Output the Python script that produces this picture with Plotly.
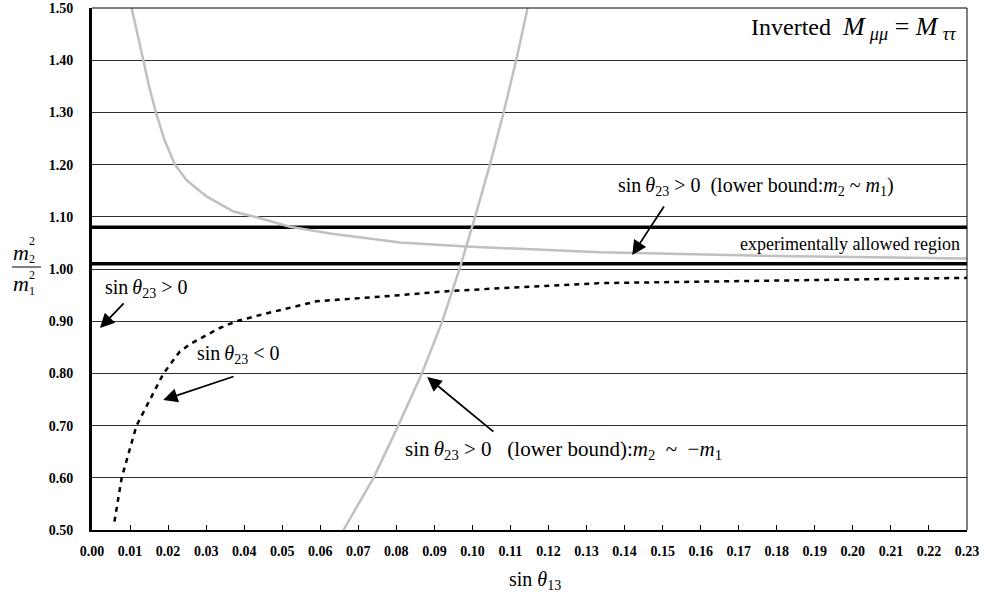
import plotly.graph_objects as go

# ---- data ----
upper_x = [0.0104, 0.0120, 0.0135, 0.0150, 0.0168, 0.0190, 0.0218, 0.0249, 0.0301,
           0.0372, 0.0433, 0.0520, 0.0626, 0.0810, 0.0983, 0.1335, 0.1800, 0.2300]
upper_y = [1.500, 1.445, 1.400, 1.350, 1.300, 1.248, 1.200, 1.170, 1.139,
           1.110, 1.099, 1.081, 1.068, 1.051, 1.043, 1.032, 1.025, 1.020]

steep_x = [0.0661, 0.0740, 0.0805, 0.0867, 0.0921, 0.0966, 0.1007, 0.1046, 0.1082, 0.1115, 0.1145]
steep_y = [0.50, 0.60, 0.70, 0.80, 0.90, 1.00, 1.10, 1.20, 1.30, 1.40, 1.50]

neg_x = [0.0059, 0.0078, 0.0117, 0.0188, 0.0231, 0.0262, 0.0336, 0.0380, 0.0442,
         0.0590, 0.0810, 0.0941, 0.1335, 0.1800, 0.2300]
neg_y = [0.516, 0.600, 0.700, 0.800, 0.842, 0.858, 0.887, 0.900, 0.912,
         0.938, 0.950, 0.958, 0.973, 0.978, 0.983]

bounds = [1.01, 1.08]
x_range = [0.0, 0.23]
y_range = [0.5, 1.5]

FONT = "Times New Roman, Liberation Serif, DejaVu Serif, serif"
NB = "\u00a0"
TH = "\u2009"

fig = go.Figure()

for b in bounds:
    fig.add_trace(go.Scatter(x=x_range, y=[b, b], mode="lines",
                             line=dict(color="black", width=3.5),
                             hoverinfo="skip", showlegend=False))

fig.add_trace(go.Scatter(x=upper_x, y=upper_y, mode="lines",
                         line=dict(color="#c0c0c0", width=2.5), showlegend=False))
fig.add_trace(go.Scatter(x=steep_x, y=steep_y, mode="lines",
                         line=dict(color="#c0c0c0", width=2.5), showlegend=False))
fig.add_trace(go.Scatter(x=neg_x, y=neg_y, mode="lines",
                         line=dict(color="black", width=2.5, dash="5px,5px"), showlegend=False))

fig.update_layout(
    width=985, height=603,
    margin=dict(l=92, r=18, t=8, b=73, autoexpand=False),
    paper_bgcolor="white", plot_bgcolor="white",
    font=dict(family=FONT, color="black"),
    showlegend=False,
)

fig.update_xaxes(range=x_range, dtick=0.01, tick0=0, tickformat=".2f",
                 showgrid=False, zeroline=False, automargin=False,
                 showline=True, linecolor="black", linewidth=1.5,
                 ticks="inside", ticklen=5, tickcolor="black", tickwidth=1,
                 tickfont=dict(family=FONT, size=14, color="black", weight="bold"),
                 ticklabelstandoff=7)
fig.update_yaxes(range=y_range, dtick=0.1, tick0=0.5, tickformat=".2f",
                 showgrid=True, gridcolor="#303030", gridwidth=1, zeroline=False,
                 automargin=False,
                 showline=True, linecolor="black", linewidth=3,
                 ticks="", tickfont=dict(family=FONT, size=14, color="black", weight="bold"),
                 ticklabelstandoff=13)

# border (top, right)
fig.add_shape(type="line", xref="paper", yref="paper", x0=0, x1=1, y0=1, y1=1,
              line=dict(color="black", width=1))
fig.add_shape(type="line", xref="paper", yref="paper", x0=1, x1=1, y0=0, y1=1,
              line=dict(color="black", width=1))

def txt(x, y, text, size=17, xanchor="left", yanchor="middle"):
    fig.add_annotation(x=x, y=y, xref="x", yref="y", text=text, showarrow=False,
                       xanchor=xanchor, yanchor=yanchor,
                       font=dict(family=FONT, size=size, color="black"))

def arrow(hx, hy, tx, ty):
    fig.add_annotation(x=hx, y=hy, ax=tx, ay=ty, xref="x", yref="y", axref="x", ayref="y",
                       text="", showarrow=True, arrowhead=2, arrowsize=1.6,
                       arrowwidth=1.8, arrowcolor="black")

s23 = "sin" + TH + "<i>θ</i><sub>23</sub>"
gt0 = NB + ">" + NB + "0"
lt0 = NB + "<" + NB + "0"

title = ("Inverted" + NB + NB + "<span style='font-size:26px'><i>M</i>" + TH +
         "<sub><i>μμ</i></sub>" + NB + "=" + NB + "<i>M</i>" + TH + "<sub><i>ττ</i></sub></span>")
txt(0.2280, 1.462, title, size=24, xanchor="right")
txt(0.1745, 1.159, s23 + gt0 + NB + NB + "(lower bound:<i>m</i><sub>2</sub>" + NB + "~" + NB +
    "<i>m</i><sub>1</sub>)", size=20, xanchor="center")
txt(0.2287, 1.0479, "experimentally allowed region", size=18, xanchor="right")
txt(0.0030, 0.962, s23 + gt0, size=20)
txt(0.0271, 0.837, s23 + lt0, size=20)
txt(0.0818, 0.653, s23 + gt0 + NB + NB + NB + "(lower bound):<i>m</i><sub>2</sub>" + NB + NB + "~" +
    NB + NB + "−<i>m</i><sub>1</sub>", size=21)

arrow(0.1420, 1.0268, 0.1506, 1.1226)
arrow(0.0021, 0.8870, 0.0087, 0.9368)
arrow(0.0187, 0.7490, 0.0376, 0.7950)
arrow(0.0881, 0.7930, 0.1059, 0.6860)

# x-axis title
fig.add_annotation(x=0.506, y=-0.097, xref="paper", yref="paper",
                   text="sin" + NB + "<i>θ</i><sub>13</sub>", showarrow=False,
                   xanchor="center", yanchor="middle",
                   font=dict(family=FONT, size=20, color="black"))

# y-axis title as stacked fraction (pixel -> paper conversion)
L, T, PW, PH = 92, 8, 985 - 92 - 18, 603 - 8 - 73
def px(x):
    return (x - L) / PW
def py(y):
    return 1 - (y - T) / PH

def ptxt(x, y, text, size):
    fig.add_annotation(x=px(x), y=py(y), xref="paper", yref="paper", text=text,
                       showarrow=False, xanchor="center", yanchor="middle",
                       font=dict(family=FONT, size=size, color="black"))

ptxt(21, 253, "<i>m</i>", 22)
ptxt(32, 241, "2", 12)
ptxt(32, 259, "2", 12)
fig.add_shape(type="line", xref="paper", yref="paper", x0=px(12), x1=px(41),
              y0=py(267), y1=py(267), line=dict(color="black", width=1))
ptxt(21, 283, "<i>m</i>", 22)
ptxt(32, 275, "2", 12)
ptxt(32, 291, "1", 12)

fig.write_html("out.html")
